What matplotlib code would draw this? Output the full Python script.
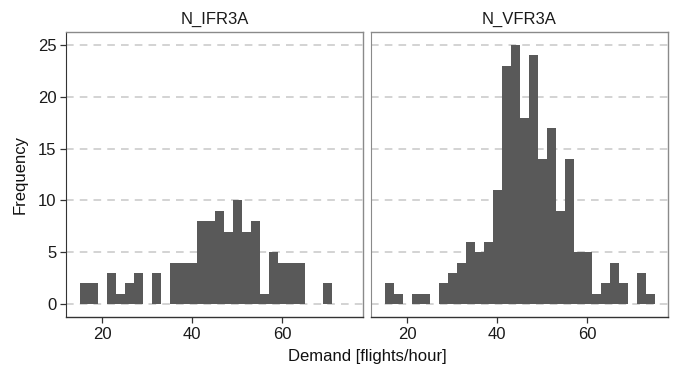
import matplotlib
matplotlib.use("Agg")
import matplotlib.pyplot as plt
import numpy as np

plt.rcParams['font.family'] = ['Liberation Sans', 'DejaVu Sans']

bin_edges = np.arange(15, 77, 2)  # 15..75, binwidth 2
panels = ["N_IFR3A", "N_VFR3A"]
ifr_counts = [2, 2, 0, 3, 1, 2, 3, 0, 3, 0, 4, 4, 4, 8, 8, 9, 7, 10, 7, 8, 1, 5, 4, 4, 4, 0, 0, 2, 0, 0]
vfr_counts = [2, 1, 0, 1, 1, 0, 2, 3, 4, 6, 5, 6, 11, 23, 25, 18, 24, 14, 17, 9, 14, 5, 5, 1, 2, 4, 2, 0, 3, 1]
x_ticks = [20, 40, 60]
y_ticks = [0, 5, 10, 15, 20, 25]

W, H = 673, 372
fig = plt.figure(figsize=(W / 100, H / 100), dpi=100)

def ax_rect(l, t, r, b):
    return [l / W, 1 - b / H, (r - l) / W, (b - t) / H]

rects = [ax_rect(66, 32, 363, 317), ax_rect(371, 32, 668, 317)]
bar_color = "#595959"

for i, (name, counts) in enumerate(zip(panels, [ifr_counts, vfr_counts])):
    ax = fig.add_axes(rects[i])
    ax.bar(bin_edges[:-1], counts, width=np.diff(bin_edges), align='edge',
           color=bar_color, edgecolor='none', zorder=2)
    ax.set_xlim(12, 78)
    ax.set_ylim(-1.25, 26.25)
    ax.set_xticks(x_ticks)
    ax.set_yticks(y_ticks)
    for y in y_ticks:
        ax.axhline(y, color="#c8c8c8", lw=1.1, ls=(0, (5, 4)), zorder=1)
    for s in ['top', 'right']:
        ax.spines[s].set_color("#8a8a8a")
        ax.spines[s].set_linewidth(1.0)
    ax.spines['bottom'].set_color("#333333")
    ax.spines['bottom'].set_linewidth(1.0)
    ax.tick_params(axis='x', length=4, width=0.9, color="#333333",
                   labelsize=12, labelcolor="#1a1a1a", pad=3)
    if i == 0:
        ax.spines['left'].set_color("#333333")
        ax.tick_params(axis='y', length=4, width=0.9, color="#333333",
                       labelsize=12, labelcolor="#1a1a1a", pad=3)
        ax.set_ylabel("Frequency", fontsize=12, color="#111111", labelpad=7)
    else:
        ax.spines['left'].set_color("#8a8a8a")
        ax.tick_params(axis='y', left=False, labelleft=False)
    ax.set_title(name, fontsize=12, color="#1a1a1a", pad=6)

fig.text(367 / W, 1 - 356 / H, "Demand [flights/hour]", ha='center', va='center',
         fontsize=12, color="#111111")

fig.savefig("out.png", dpi=100)
